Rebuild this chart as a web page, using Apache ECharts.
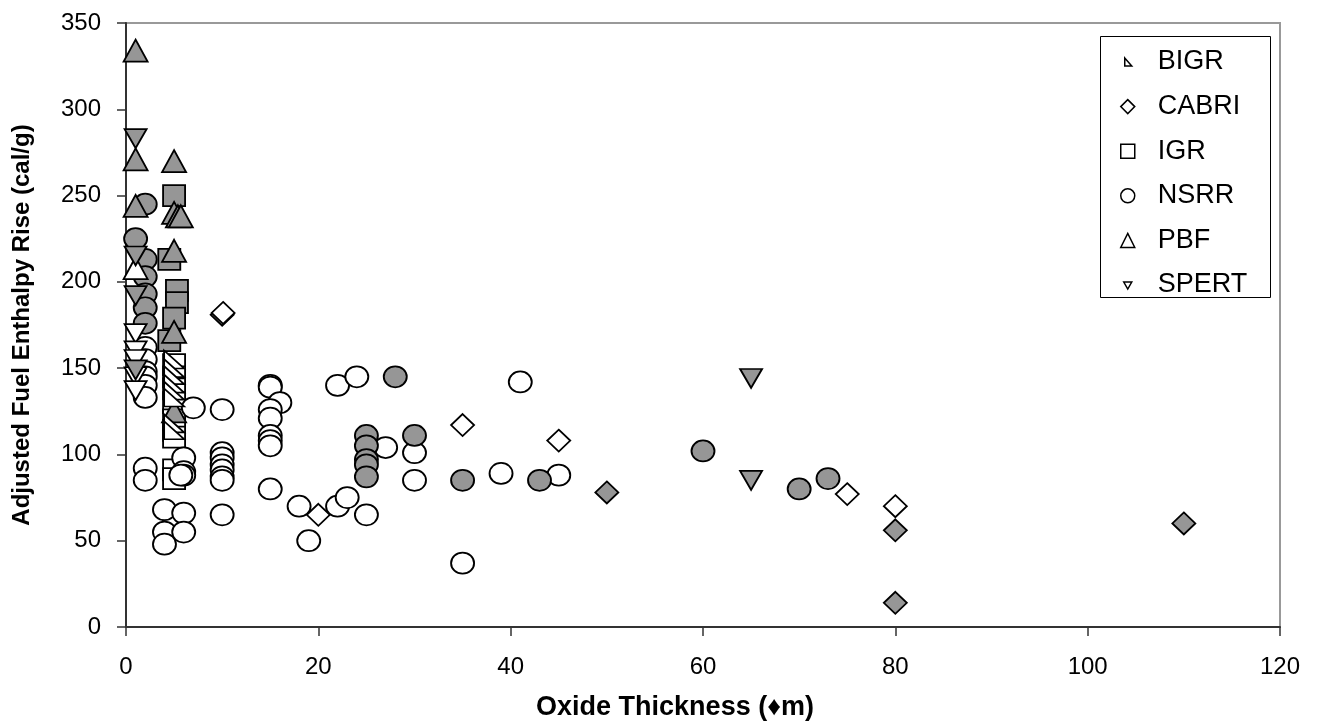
<!DOCTYPE html>
<html>
<head>
<meta charset="utf-8">
<script src="https://cdn.jsdelivr.net/npm/echarts@6/dist/echarts.min.js"></script>
<style>html,body{margin:0;padding:0;background:#fff;}#c{width:1317px;height:727px;}</style>
</head>
<body>
<div id="c"></div>
<script>
// ---- data (oxide thickness [um], adjusted fuel enthalpy rise [cal/g]) ----
const xTicks = [0, 20, 40, 60, 80, 100, 120];
const yTicks = [0, 50, 100, 150, 200, 250, 300, 350];
const seriesNames = ['BIGR', 'CABRI', 'IGR', 'NSRR', 'PBF', 'SPERT'];

const bigrOpen = [[5,155],[5,150],[5,146],[5,141],[5,137],[5,133],[5,118],[5,114]];

const cabriOpen = [[10,181],[10.1,182],[20,65],[35,117],[45,108],[75,77],[80,70]];
const cabriFilled = [[50,78],[80,56],[80,14],[110,60]];

const igrOpen = [[5,152],[5,145],[5,138],[5,130],[5,120],[5,114],[5,110],[5,91],[5,86],[5,61]];
const igrFilled = [[5,250],[4.5,213],[5.3,195],[5.3,188],[5,179],[4.5,166]];

const nsrrOpen = [[2,162],[2,155],[2,148],[2,145],[2,140],[2,133],[2,92],[2,85],
  [4,68],[4,55],[4,48],[6,98],[6,90],[6,88],[5.7,88],[6,66],[6,55],
  [7,127],[10,126],[10,101],[10,98],[10,94],[10,91],[10,87],[10,85],[10,65],
  [15,140],[15,139],[16,130],[15,126],[15,121],[15,111],[15,108],[15,105],[15,80],
  [18,70],[19,50],[22,70],[23,75],[22,140],[24,145],[27,104],[25,65],[30,101],[30,85],
  [35,37],[39,89],[41,142],[45,88]];
const nsrrFilled = [[1,225],[2,245],[2,213],[2,203],[2,193],[2,185],[2,176],
  [25,111],[25,105],[25,97],[25,94],[25,87],[28,145],[30,111],[35,85],[43,85],
  [60,102],[70,80],[73,86]];

const pbfOpen = [[1,208]];
const pbfFilled = [[1,334],[1,271],[1,244],[5,270],[5,240],[5.4,238],[5.7,238],[5,218],[5,171],[5,125]];

const spertOpen = [[1,170],[1,160],[1,155],[1,145],[1,137]];
const spertFilled = [[1,283],[1,215],[1,192],[1,149],[65,144],[65,85]];

// ---- styling ----
const FONT = '"Liberation Sans", Arial, sans-serif';
const GRAY = '#969696';
const sym = {
  BIGR: {symbol: 'path://M0,0L0,10L10,10Z', size: [20, 18]},
  CABRI: {symbol: 'diamond', size: [23, 22]},
  IGR: {symbol: 'rect', size: [22, 21]},
  NSRR: {symbol: 'circle', size: [23, 21]},
  PBF: {symbol: 'triangle', size: [24, 22]},
  SPERT: {symbol: 'path://M0,0L10,0L5,10Z', size: [22, 19]}
};
const legendIcons = {
  BIGR: 'path://M0,0M14,14M4,3L4,11L11,11Z',
  CABRI: 'diamond',
  IGR: 'rect',
  NSRR: 'circle',
  PBF: 'triangle',
  SPERT: 'path://M0,0M14,14M3,4L11,4L7,11Z'
};
const zOrder = {BIGR: 4, CABRI: 2, IGR: 2, NSRR: 2, PBF: 3, SPERT: 3};

function mk(name, data, filled) {
  return {
    name: name, type: 'scatter', data: data,
    symbol: sym[name].symbol, symbolSize: sym[name].size,
    itemStyle: {color: filled ? GRAY : '#ffffff', borderColor: '#000', borderWidth: 1.8, opacity: 1},
    emphasis: {disabled: true},
    z: zOrder[name] + (filled ? 0.5 : 0)
  };
}

const series = [
  mk('BIGR', bigrOpen, false),
  mk('CABRI', cabriOpen, false), mk('CABRI', cabriFilled, true),
  mk('IGR', igrOpen, false), mk('IGR', igrFilled, true),
  mk('NSRR', nsrrOpen, false), mk('NSRR', nsrrFilled, true),
  mk('PBF', pbfOpen, false), mk('PBF', pbfFilled, true),
  mk('SPERT', spertOpen, false), mk('SPERT', spertFilled, true)
];

const chart = echarts.init(document.getElementById('c'), null, {renderer: 'canvas'});
chart.setOption({
  animation: false,
  backgroundColor: '#fff',
  grid: {left: 126, right: 37, top: 23, bottom: 100, show: true, borderColor: '#999', borderWidth: 2, backgroundColor: 'transparent'},
  xAxis: {
    type: 'value', min: xTicks[0], max: xTicks[xTicks.length - 1], interval: 20,
    axisLine: {show: true, lineStyle: {color: '#333', width: 2}},
    axisTick: {show: true, inside: false, length: 9, lineStyle: {color: '#333', width: 1.5}},
    axisLabel: {margin: 28, color: '#000', fontSize: 24, fontFamily: FONT},
    splitLine: {show: false}
  },
  yAxis: {
    type: 'value', min: yTicks[0], max: yTicks[yTicks.length - 1], interval: 50,
    axisLine: {show: true, lineStyle: {color: '#333', width: 2}},
    axisTick: {show: true, inside: false, length: 9, lineStyle: {color: '#333', width: 1.5}},
    axisLabel: {margin: 25, color: '#000', fontSize: 24, fontFamily: FONT},
    splitLine: {show: false}
  },
  legend: {
    orient: 'vertical', left: 1120, top: 47,
    padding: 0, itemGap: 14.6, itemWidth: 14, itemHeight: 14,
    selectedMode: false,
    textStyle: {fontSize: 27, fontFamily: FONT, color: '#000', lineHeight: 30, padding: [0, 0, 0, 18]},
    data: seriesNames.map(n => ({name: n, icon: legendIcons[n], itemStyle: {color: '#fff', borderColor: '#000', borderWidth: 1.5}})),
    z: 10
  },
  graphic: [
    {type: 'rect', shape: {x: 1100.5, y: 36.5, width: 170, height: 261}, style: {fill: '#fff', stroke: '#000', lineWidth: 1}, z: 5},
    {type: 'text', x: 675, y: 708, style: {text: 'Oxide Thickness (\u2666m)', font: 'bold 27px ' + FONT, fill: '#000', align: 'center', verticalAlign: 'middle'}, z: 5},
    {type: 'text', x: 22, y: 325, rotation: Math.PI / 2, style: {text: 'Adjusted Fuel Enthalpy Rise (cal/g)', font: 'bold 24px ' + FONT, fill: '#000', align: 'center', verticalAlign: 'middle'}, z: 5}
  ],
  series: series
});
</script>
</body>
</html>
